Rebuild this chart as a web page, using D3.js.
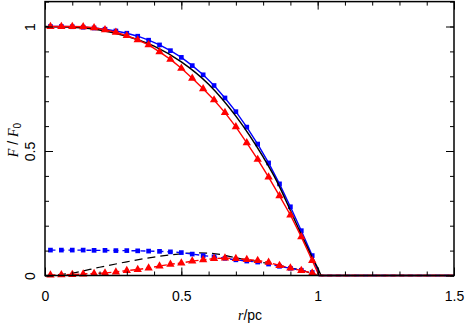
<!DOCTYPE html>
<html>
<head>
<meta charset="utf-8">
<script src="https://cdn.jsdelivr.net/npm/d3@7"></script>
<style>
  body { margin: 0; background: #fff; }
  svg { display: block; }
  text { font-family: "Liberation Sans", Arial, sans-serif; }
</style>
</head>
<body>
<svg id="chart" width="466" height="327"></svg>
<script>
// marker radii (r / pc) shared by the sampled series
var rPts = [0.02, 0.06, 0.10, 0.14, 0.18, 0.22, 0.26, 0.30, 0.34, 0.38, 0.42, 0.46, 0.50,
            0.54, 0.58, 0.62, 0.66, 0.70, 0.74, 0.78, 0.82, 0.86, 0.90, 0.94, 0.98];

// blue squares, upper curve
var blueTop = [1.0, 1.0, 0.999, 0.997, 0.994, 0.989, 0.982, 0.973, 0.961, 0.945, 0.926, 0.903, 0.876,
               0.843, 0.806, 0.763, 0.713, 0.658, 0.596, 0.528, 0.452, 0.368, 0.276, 0.180, 0.080];
// red triangles, upper curve
var redTop = [1.0, 1.0, 1.0, 0.999, 0.995, 0.987, 0.977, 0.963, 0.946, 0.926, 0.898, 0.868, 0.832,
              0.792, 0.750, 0.705, 0.654, 0.597, 0.533, 0.466, 0.395, 0.320, 0.243, 0.155, 0.060];
// blue squares, lower curve
var blueLow = [0.102, 0.102, 0.102, 0.102, 0.101, 0.101, 0.100, 0.100, 0.099, 0.098, 0.097, 0.095, 0.092,
               0.086, 0.080, 0.075, 0.069, 0.063, 0.058, 0.054, 0.046, 0.037, 0.029, 0.021, 0.012];
// red triangles, lower curve
var redLow = [0.002, 0.003, 0.004, 0.006, 0.008, 0.010, 0.014, 0.020, 0.024, 0.030, 0.038, 0.045, 0.050,
              0.058, 0.063, 0.068, 0.070, 0.068, 0.064, 0.060, 0.053, 0.040, 0.030, 0.020, 0.010];

// tail of the sampled curves (lines only, no markers)
var tailR = [1.005, 1.5];
var tailV = [0, 0];

// black solid curve
var blackR = [0, 0.1, 0.2, 0.3, 0.4, 0.5, 0.6, 0.7, 0.75, 0.8, 0.85, 0.9, 0.95, 0.98, 1.0, 1.015, 1.5];
var blackV = [1.0, 0.997, 0.986, 0.961, 0.921, 0.858, 0.768, 0.640, 0.563, 0.476, 0.379, 0.261, 0.141, 0.073, 0.031, 0, 0];

// black dashed curve
var dashR = [0, 0.1, 0.2, 0.3, 0.4, 0.5, 0.55, 0.6, 0.65, 0.7, 0.8, 0.9, 0.95, 1.0];
var dashV = [0, 0.010, 0.033, 0.055, 0.074, 0.087, 0.091, 0.090, 0.083, 0.071, 0.052, 0.031, 0.018, 0];

var xMajor = [0, 0.5, 1, 1.5];
var xTickLabels = ["0", "0.5", "1", "1.5"];
var yMajor = [0, 0.5, 1];
var yTickLabels = ["0", "0.5", "1"];

var svg = d3.select("#chart");
var x = d3.scaleLinear().domain([0, 1.5]).range([45, 454]);
var y = d3.scaleLinear().domain([0, 1.1]).range([275.5, 1.6]);

function pairs(xs, ys) { return xs.map(function (v, i) { return [v, ys[i]]; }); }

var line = d3.line().x(function (d) { return x(d[0]); }).y(function (d) { return y(d[1]); });
var smooth = d3.line().curve(d3.curveMonotoneX)
    .x(function (d) { return x(d[0]); }).y(function (d) { return y(d[1]); });

var plot = svg.append("g");

// black dashed curve
plot.append("path").attr("d", smooth(pairs(dashR, dashV)))
    .attr("fill", "none").attr("stroke", "#000").attr("stroke-width", 1.2)
    .attr("stroke-dasharray", "8,5");

// sampled series
var series = [
    { v: blueTop, color: "#0000ff", dash: null, sym: d3.symbolSquare, size: 22 },
    { v: blueLow, color: "#0000ff", dash: "5,4", sym: d3.symbolSquare, size: 22 },
    { v: redTop, color: "#ff0000", dash: null, sym: d3.symbolTriangle, size: 30 },
    { v: redLow, color: "#ff0000", dash: "5,3", sym: d3.symbolTriangle, size: 30 }
];

function drawSeries(s) {
    var pts = pairs(rPts, s.v).concat(pairs(tailR, tailV));
    plot.append("path").attr("d", line(pts))
        .attr("fill", "none").attr("stroke", s.color).attr("stroke-width", 1.4)
        .attr("stroke-dasharray", s.dash);
    plot.append("g").selectAll("path")
        .data(pairs(rPts, s.v))
        .enter().append("path")
        .attr("d", d3.symbol().type(s.sym).size(s.size))
        .attr("transform", function (d) { return "translate(" + x(d[0]) + "," + y(d[1]) + ")"; })
        .attr("fill", s.color);
}
// blue first, then black solid, then red on top
drawSeries(series[0]);
drawSeries(series[1]);
plot.append("path").attr("d", smooth(pairs(blackR, blackV)))
    .attr("fill", "none").attr("stroke", "#000").attr("stroke-width", 1.5);
drawSeries(series[2]);
drawSeries(series[3]);

// axes, ticks inside on all four sides
var minorX = d3.range(0, 16).map(function (i) { return i / 10; });
var minorY = d3.range(0, 12).map(function (i) { return i / 10; });

function styleAxis(g) {
    g.select(".domain").remove();
    g.selectAll("line").attr("stroke", "#000").attr("stroke-width", 1);
}

svg.append("g").attr("transform", "translate(0," + y(0) + ")")
    .call(d3.axisBottom(x).tickValues(minorX).tickSize(-4).tickFormat(""))
    .call(styleAxis);
svg.append("g").attr("transform", "translate(0," + y(0) + ")")
    .call(d3.axisBottom(x).tickValues(xMajor).tickSize(-8).tickPadding(16)
        .tickFormat(function (d, i) { return xTickLabels[i]; }))
    .call(styleAxis)
    .selectAll("text").attr("font-size", 14).attr("fill", "#000");
svg.append("g").attr("transform", "translate(0," + y(1.1) + ")")
    .call(d3.axisTop(x).tickValues(minorX).tickSize(-4).tickFormat(""))
    .call(styleAxis);
svg.append("g").attr("transform", "translate(0," + y(1.1) + ")")
    .call(d3.axisTop(x).tickValues(xMajor).tickSize(-8).tickFormat(""))
    .call(styleAxis);

svg.append("g").attr("transform", "translate(" + x(0) + ",0)")
    .call(d3.axisLeft(y).tickValues(minorY).tickSize(-4).tickFormat(""))
    .call(styleAxis);
var yl = svg.append("g").attr("transform", "translate(" + x(0) + ",0)")
    .call(d3.axisLeft(y).tickValues(yMajor).tickSize(-8).tickFormat(function (d, i) { return yTickLabels[i]; }))
    .call(styleAxis);
yl.selectAll("text")
    .attr("font-size", 14).attr("fill", "#000")
    .attr("x", 0).attr("dy", null)
    .attr("text-anchor", "middle")
    .attr("transform", "translate(-10,0) rotate(-90)");
svg.append("g").attr("transform", "translate(" + x(1.5) + ",0)")
    .call(d3.axisRight(y).tickValues(minorY).tickSize(-4).tickFormat(""))
    .call(styleAxis);
svg.append("g").attr("transform", "translate(" + x(1.5) + ",0)")
    .call(d3.axisRight(y).tickValues(yMajor).tickSize(-8).tickFormat(""))
    .call(styleAxis);

// frame
svg.append("rect")
    .attr("x", x(0)).attr("y", y(1.1))
    .attr("width", x(1.5) - x(0)).attr("height", y(0) - y(1.1))
    .attr("fill", "none").attr("stroke", "#000").attr("stroke-width", 1.5);

// axis titles
var xt = svg.append("text").attr("x", 250).attr("y", 320)
    .attr("text-anchor", "middle").attr("font-size", 14);
xt.append("tspan").attr("font-style", "italic").attr("font-family", "'Liberation Serif', serif").text("r");
xt.append("tspan").text("/pc");

var yt = svg.append("text").attr("transform", "translate(18,140) rotate(-90)")
    .attr("text-anchor", "middle").attr("font-size", 14);
yt.append("tspan").attr("font-style", "italic").attr("font-family", "'Liberation Serif', serif").text("F");
yt.append("tspan").text(" / ");
yt.append("tspan").attr("font-style", "italic").attr("font-family", "'Liberation Serif', serif").text("F");
yt.append("tspan").attr("font-size", 10).attr("dy", 3).text("0");
</script>
</body>
</html>
